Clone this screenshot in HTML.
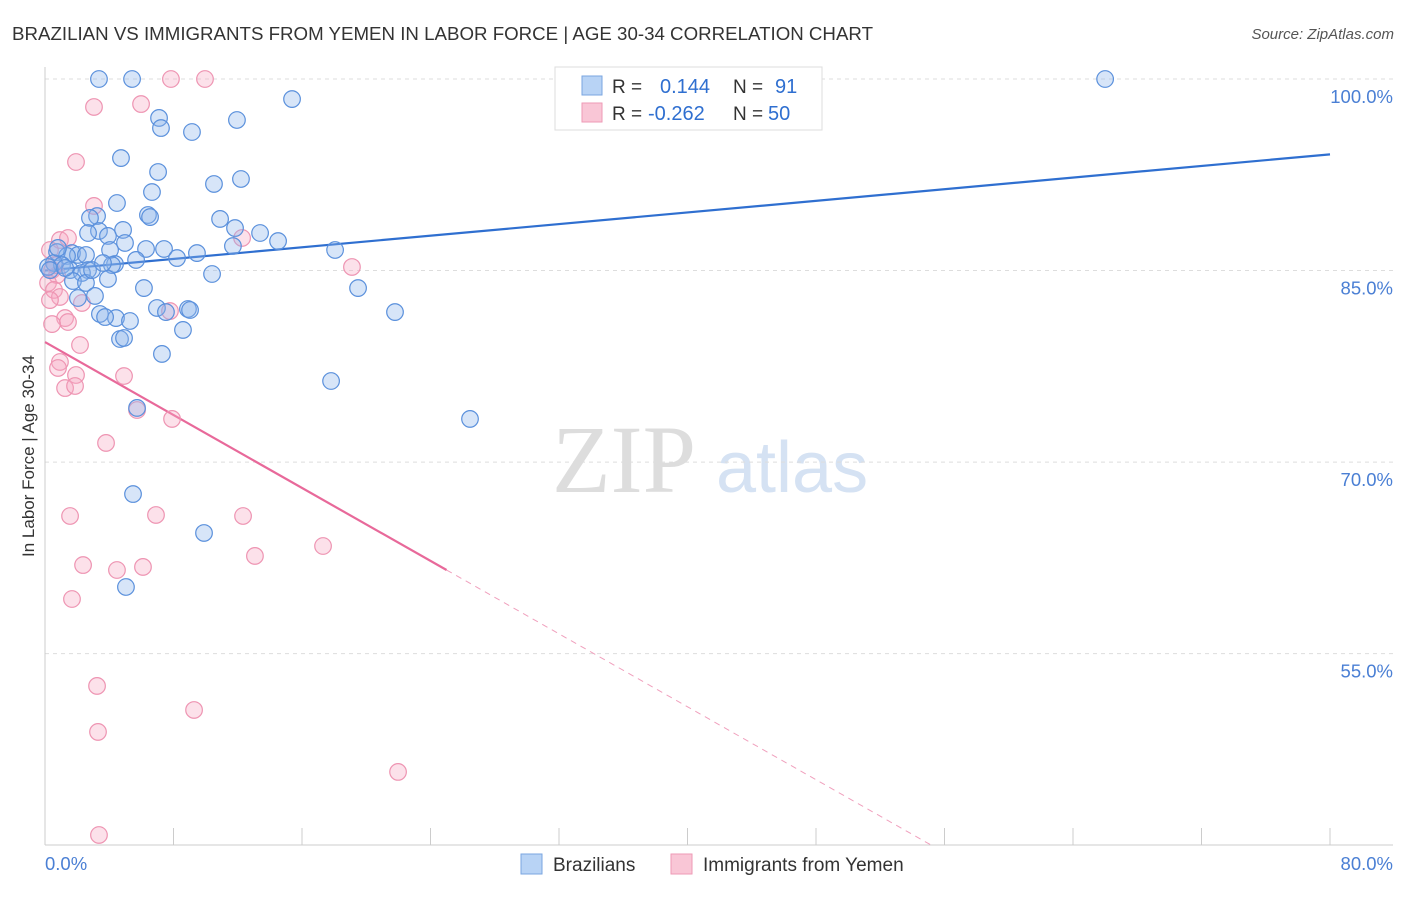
<!DOCTYPE html>
<html><head><meta charset="utf-8"><style>
body{margin:0;background:#fff;font-family:"Liberation Sans",sans-serif}
svg text{font-family:"Liberation Sans",sans-serif}
</style></head><body>
<svg id="chart" width="1406" height="892" xmlns="http://www.w3.org/2000/svg">
<text x="12" y="40" font-size="18" fill="#333" textLength="861" lengthAdjust="spacingAndGlyphs">BRAZILIAN VS IMMIGRANTS FROM YEMEN IN LABOR FORCE | AGE 30-34 CORRELATION CHART</text>
<text x="1394" y="39" font-size="15" fill="#555" text-anchor="end" font-style="italic">Source: ZipAtlas.com</text>
<g>
<text x="552" y="492" font-size="96" fill="#ddd" font-family="Liberation Serif" style="font-family:'Liberation Serif',serif">ZIP</text>
<text x="716" y="492" font-size="72" fill="#d5e2f3">atlas</text>
</g>
<g id="grid"></g><g id="axes"></g><g id="lines"></g><g id="pts"></g>
<text transform="translate(34,456) rotate(-90)" font-size="17" fill="#333" text-anchor="middle">In Labor Force | Age 30-34</text>
<g>
<rect x="555" y="67" width="267" height="63" fill="#fff" stroke="#ddd"/>
<rect x="582" y="76" width="20" height="19" fill="#b8d3f5" stroke="#7aa6e0"/>
<rect x="582" y="103" width="20" height="19" fill="#f9c6d6" stroke="#ee9ab6"/>
<text x="612" y="93" font-size="19" fill="#333">R =</text>
<text x="660" y="93" font-size="20" fill="#2f6fd0">0.144</text>
<text x="733" y="93" font-size="19" fill="#333">N =</text>
<text x="775" y="93" font-size="20" fill="#2f6fd0">91</text>
<text x="612" y="120" font-size="19" fill="#333">R =</text>
<text x="648" y="120" font-size="20" fill="#2f6fd0">-0.262</text>
<text x="733" y="120" font-size="19" fill="#333">N =</text>
<text x="768" y="120" font-size="20" fill="#2f6fd0">50</text>
</g>
<g>
<rect x="521" y="854" width="21" height="20" fill="#b8d3f5" stroke="#7aa6e0"/>
<text x="553" y="871" font-size="19" fill="#333">Brazilians</text>
<rect x="671" y="854" width="21" height="20" fill="#f9c6d6" stroke="#ee9ab6"/>
<text x="703" y="871" font-size="19" fill="#333">Immigrants from Yemen</text>
</g>
</svg>
<script>
const yTicks=[100,85,70,55];
const yTickLabels=["100.0%","85.0%","70.0%","55.0%"];
const xTickLabels=["0.0%","80.0%"];
const blueX=[3.36,5.42,66.0,15.38,7.10,11.95,7.22,9.15,4.73,7.04,12.20,10.52,6.66,4.48,6.41,6.54,3.24,2.80,10.90,11.83,4.86,3.36,2.68,13.39,3.92,4.98,14.51,7.41,6.29,11.70,4.05,18.06,0.75,1.68,2.05,1.37,2.55,9.46,0.56,8.22,5.67,4.36,4.17,1.06,0.19,2.68,1.56,10.40,2.30,3.92,1.74,2.55,6.16,19.49,3.11,2.05,6.97,8.90,9.03,7.53,3.42,4.42,3.74,5.29,21.79,8.59,4.67,4.92,7.28,17.81,5.73,26.46,5.48,9.90,5.04,0.81,0.31,1.25,2.93,3.61];
const blueY=[100,100,100,98.43,96.95,96.79,96.16,95.85,93.81,92.72,92.17,91.78,91.15,90.29,89.35,89.19,89.27,89.12,89.04,88.33,88.18,88.10,87.94,87.94,87.71,87.16,87.31,86.69,86.69,86.92,86.61,86.61,86.45,86.37,86.22,86.14,86.22,86.37,85.59,85.98,85.83,85.51,85.43,85.43,85.28,85.04,85.04,84.73,84.81,84.34,84.18,84.03,83.63,83.63,83.01,82.85,82.07,81.99,81.91,81.75,81.60,81.28,81.36,81.05,81.75,80.35,79.64,79.72,78.47,76.35,74.24,73.38,67.50,64.45,60.22,86.77,85.04,85.20,85.04,85.59];
const pinkX=[7.84,9.96,3.05,5.98,1.93,3.05,0.93,1.43,12.27,19.11,0.44,0.75,0.19,0.56,0.93,2.30,0.31,7.78,1.25,1.43,0.44,2.18,0.93,0.81,1.93,4.92,1.25,1.87,5.73,7.91,3.80,1.56,6.91,12.33,13.07,17.31,2.37,4.48,6.10,1.68,3.24,9.28,3.30,21.98,3.36,0.31,0.62];
const pinkY=[100,100,97.81,98.04,93.50,90.06,87.39,87.55,87.55,85.28,85.04,84.65,84.03,83.48,82.93,82.46,82.69,81.83,81.28,80.97,80.81,79.17,77.84,77.37,76.82,76.74,75.80,75.96,74.08,73.38,71.50,65.78,65.86,65.78,62.65,63.43,61.94,61.55,61.79,59.28,52.47,50.59,48.87,45.74,40.80,86.61,85.43];
const blueLine=[[0,85.0],[80,94.1]];
const pinkLine=[[0,79.4],[25,61.55]];
const pinkSlope=(pinkLine[1][1]-pinkLine[0][1])/(pinkLine[1][0]-pinkLine[0][0]);
const X=v=>45+v/80*1285, Y=v=>79+(100-v)*12.77;
const NS="http://www.w3.org/2000/svg";
function mk(p,t,a){const e=document.createElementNS(NS,t);for(const k in a)e.setAttribute(k,a[k]);p.appendChild(e);return e;}
const g=document.getElementById('grid'),ax=document.getElementById('axes'),ln=document.getElementById('lines'),pt=document.getElementById('pts');
yTicks.forEach((v,i)=>{
 const l=mk(g,'line',{x1:45,x2:1393,y1:Y(v),y2:Y(v),stroke:'#ddd','stroke-dasharray':'4,4'});
 
 
 const t=mk(g,'text',{x:1393,y:Y(v)+24,'font-size':18.5,fill:'#4a7fd4','text-anchor':'end'});
 t.textContent=yTickLabels[i];
 
 
});
mk(ax,'line',{x1:45,x2:45,y1:67,y2:845,stroke:'#ccc'});
mk(ax,'line',{x1:45,x2:1393,y1:845,y2:845,stroke:'#ccc'});
for(let i=0;i<=10;i++){const l=mk(ax,'line',{x1:X(i*8),x2:X(i*8),y1:828,y2:845,stroke:'#ccc'});
 
 }
[[0,'start',45],[80,'end',1393]].forEach((d,i)=>{const t=mk(ax,'text',{x:d[2],y:870,'font-size':18.5,fill:'#4a7fd4','text-anchor':d[1]});t.textContent=xTickLabels[i];
 
 });
function dots(xs,ys,fill,stroke,name){xs.forEach((x,i)=>{const c=mk(pt,'circle',{cx:X(x),cy:Y(ys[i]),r:8.3,fill:fill,stroke:stroke,'stroke-width':1.2});
 
 });}
dots(pinkX,pinkY,'rgba(246,170,195,0.35)','#ee94b2','yemen-point');
dots(blueX,blueY,'rgba(140,180,235,0.35)','#5a90dc','brazilian-point');
const bl=mk(ln,'line',{x1:X(blueLine[0][0]),y1:Y(blueLine[0][1]),x2:X(blueLine[1][0]),y2:Y(blueLine[1][1]),stroke:'#2f6fd0','stroke-width':2.2});


const pl=mk(ln,'line',{x1:X(pinkLine[0][0]),y1:Y(pinkLine[0][1]),x2:X(pinkLine[1][0]),y2:Y(pinkLine[1][1]),stroke:'#e8699a','stroke-width':2.2});


const xEnd=pinkLine[0][0]+(40-pinkLine[0][1])/pinkSlope;
const pd=mk(ln,'line',{x1:X(pinkLine[1][0]),y1:Y(pinkLine[1][1]),x2:X(xEnd),y2:Y(40),stroke:'#f0a0bd','stroke-width':1,'stroke-dasharray':'6,5'});


</script>
</body></html>
